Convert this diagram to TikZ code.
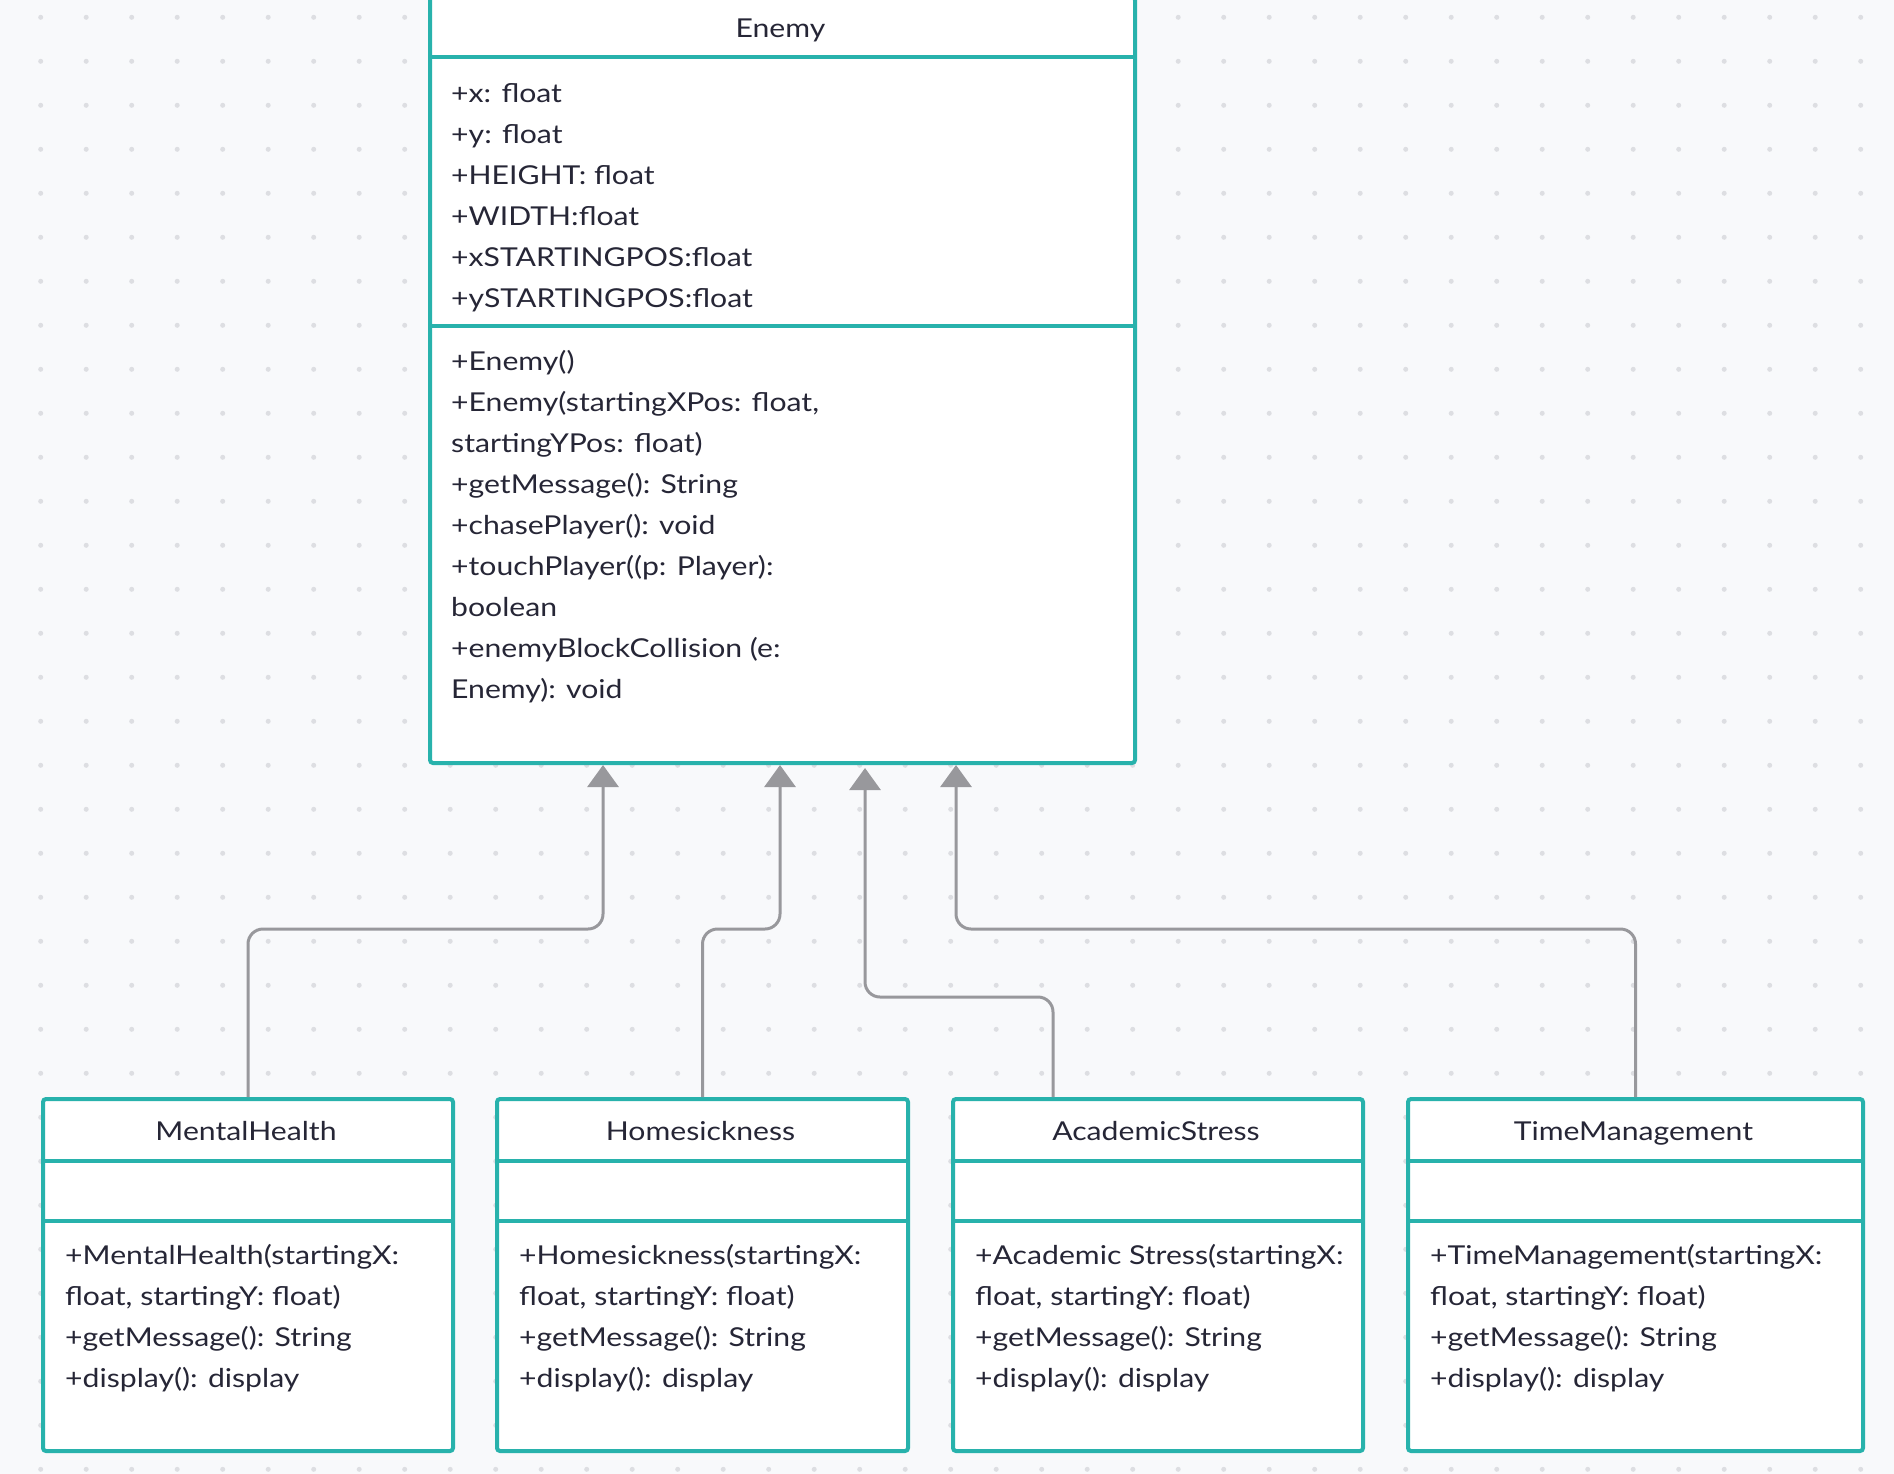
\documentclass[tikz,border=0pt]{standalone}
\usepackage{fontspec}
\setmainfont{Lato}[FakeStretch=1.16]
\usetikzlibrary{arrows.meta}
\definecolor{tealc}{RGB}{40,178,172}
\definecolor{bgc}{RGB}{248,249,251}
\definecolor{dotc}{RGB}{221,222,226}
\definecolor{connc}{RGB}{152,152,156}
\definecolor{txtc}{RGB}{38,38,54}
\tikzset{
  clsbox/.style={draw=tealc, line width=4pt, fill=white, rounded corners=3pt, inner sep=0, anchor=north west},
  divline/.style={draw=tealc, line width=3.5pt},
  ttl/.style={inner sep=0, anchor=base, font=\fontsize{26}{41}\selectfont, text=txtc},
  txt/.style={inner sep=0, anchor=north west, align=left, font=\fontsize{26}{41}\selectfont, text=txtc},
  gen/.style={draw=connc, line width=3pt, rounded corners=15pt, -{Triangle[width=31pt,length=22pt]}, fill=none},
}
\begin{document}
\begin{tikzpicture}[x=1pt,y=-1pt]
\useasboundingbox (0,0) rectangle (1894,1474);
\fill[bgc] (0,0) rectangle (1894,1474);
\foreach \i in {0,...,41}{\foreach \j in {0,...,33}{\fill[dotc] (40.7+45.5*\i,17.3+44*\j) circle (2.5pt);}}

% Enemy
\node[clsbox, minimum width=705pt, minimum height=766pt] (enemy) at (428,-5) {};
\draw[divline] (428,57) -- (1133,57);
\draw[divline] (428,326) -- (1133,326);
\node[ttl] (enemyT) at (780.5,38) {Enemy};
\node[txt] (enemyA) at (451,73.3) {\strut+x: float\\+y: float\\+HEIGHT: float\\+WIDTH:float\\+xSTARTINGPOS:float\\+ySTARTINGPOS:float};
\node[txt] (enemyM) at (451,341.3) {\strut+Enemy()\\+Enemy(startingXPos: float,\\startingYPos: float)\\+getMessage(): String\\+chasePlayer(): void\\+touchPlayer((p: Player):\\boolean\\+enemyBlockCollision (e:\\Enemy): void};

% MentalHealth
\node[clsbox, minimum width=410pt, minimum height=352pt] (mh) at (41,1097) {};
\draw[divline] (41,1161) -- (451,1161);
\draw[divline] (41,1221) -- (451,1221);
\node[ttl] (mhT) at (246,1140) {MentalHealth};
\node[txt] (mhM) at (65,1235.3) {\strut+MentalHealth(startingX:\\float, startingY: float)\\+getMessage(): String\\+display(): display};

% Homesickness
\node[clsbox, minimum width=411pt, minimum height=352pt] (hs) at (495,1097) {};
\draw[divline] (495,1161) -- (906,1161);
\draw[divline] (495,1221) -- (906,1221);
\node[ttl] (hsT) at (700.5,1140) {Homesickness};
\node[txt] (hsM) at (519,1235.3) {\strut+Homesickness(startingX:\\float, startingY: float)\\+getMessage(): String\\+display(): display};

% AcademicStress
\node[clsbox, minimum width=410pt, minimum height=352pt] (as) at (951,1097) {};
\draw[divline] (951,1161) -- (1361,1161);
\draw[divline] (951,1221) -- (1361,1221);
\node[ttl] (asT) at (1156,1140) {AcademicStress};
\node[txt] (asM) at (975,1235.3) {\strut+Academic Stress(startingX:\\float, startingY: float)\\+getMessage(): String\\+display(): display};

% TimeManagement
\node[clsbox, minimum width=455pt, minimum height=352pt] (tm) at (1406,1097) {};
\draw[divline] (1406,1161) -- (1861,1161);
\draw[divline] (1406,1221) -- (1861,1221);
\node[ttl] (tmT) at (1633.5,1140) {TimeManagement};
\node[txt] (tmM) at (1430,1235.3) {\strut+TimeManagement(startingX:\\float, startingY: float)\\+getMessage(): String\\+display(): display};

% generalizations
\draw[gen] (mh.north) |- (603,929) -- ([xshift=175pt]enemy.south west);
\draw[gen] (hs.north) |- (780,929) -- ([xshift=352pt]enemy.south west);
\draw[gen] ([xshift=102pt]as.north west) |- (865,997) -- ([xshift=437pt,yshift=-3pt]enemy.south west);
\draw[gen] (tm.north) |- (956,929) -- ([xshift=528pt]enemy.south west);
\end{tikzpicture}
\end{document}
